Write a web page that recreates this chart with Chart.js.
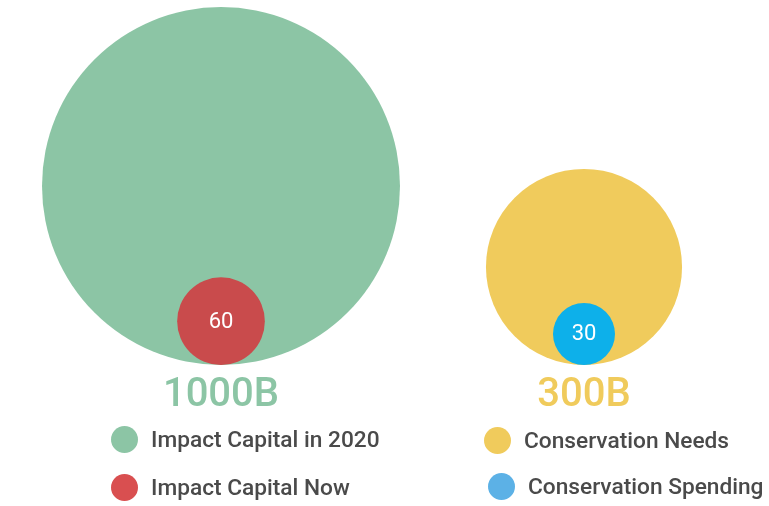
<!DOCTYPE html>
<html>
<head>
<meta charset="utf-8">
<script src="https://cdn.jsdelivr.net/npm/chart.js@4.4.1/dist/chart.umd.min.js"></script>
<style>
  html, body { margin: 0; padding: 0; background: #fff; }
  #wrap { position: relative; width: 769px; height: 506px; }
  #chart { position: absolute; left: 0; top: 0; }
  .leg { position: absolute; display: flex; align-items: center; font-family: Roboto, sans-serif; font-size: 22.7px; font-weight: 500; color: #4a4a4a; white-space: nowrap; }
  .leg span.dot { display: inline-block; width: 27px; height: 27px; border-radius: 50%; margin-right: 13px; }
</style>
</head>
<body>
<div id="wrap">
  <canvas id="chart" width="769" height="506"></canvas>
  <div id="legend"></div>
</div>
<script>
// datos
const grupos = ['1000B', '300B'];
const totales = [1000, 300];
const partes = [60, 30];
const nombresTotales = ['Impact Capital in 2020', 'Conservation Needs'];
const nombresPartes = ['Impact Capital Now', 'Conservation Spending'];

const coloresTotales = ['#8cc5a5', '#f0cb5c'];
const coloresPartes = ['#c94b4c', '#0db0ea'];
const coloresLeyendaPartes = ['#d94f50', '#5cb1e6'];

const ESCALA_R = 179 / Math.sqrt(1000);
const ALTO_AREA = 365;

const radio = v => ESCALA_R * Math.sqrt(v);

const etiquetas = {
  id: 'etiquetas',
  afterDatasetsDraw(chart) {
    const ctx = chart.ctx;
    const area = chart.chartArea;
    ctx.save();
    ctx.textAlign = 'center';
    ctx.textBaseline = 'middle';

    chart.getDatasetMeta(1).data.forEach((el, i) => {
      ctx.fillStyle = coloresTotales[i];
      ctx.font = '500 40px Roboto';
      ctx.fillText(grupos[i], el.x, area.bottom + 31);
    });

    chart.getDatasetMeta(0).data.forEach((el, i) => {
      ctx.fillStyle = '#ffffff';
      ctx.font = '22px Roboto';
      ctx.fillText(String(partes[i]), el.x, el.y + 1);
    });
    ctx.restore();
  }
};

new Chart(document.getElementById('chart'), {
  type: 'bubble',
  data: {
    datasets: [
      {
        label: 'partes',
        data: partes.map((v, i) => ({ x: i, y: radio(v), r: radio(v) })),
        backgroundColor: coloresPartes,
        borderWidth: 0,
        clip: false
      },
      {
        label: 'totales',
        data: totales.map((v, i) => ({ x: i, y: radio(v), r: radio(v) })),
        backgroundColor: coloresTotales,
        borderWidth: 0,
        clip: false
      }
    ]
  },
  options: {
    responsive: false,
    animation: false,
    events: [],
    layout: {
      autoPadding: false,
      padding: { left: 39.5, right: 3.5, top: 0, bottom: 506 - ALTO_AREA }
    },
    plugins: { legend: { display: false }, tooltip: { enabled: false } },
    scales: {
      x: { type: 'linear', display: false, min: -0.5, max: 1.5 },
      y: { type: 'linear', display: false, min: 0, max: ALTO_AREA }
    }
  },
  plugins: [etiquetas]
});

// leyenda
const leyenda = document.getElementById('legend');
const posiciones = [
  { left: 111, top: 426 },
  { left: 484, top: 427 },
  { left: 111, top: 474 },
  { left: 488, top: 473 }
];
const items = [
  { texto: nombresTotales[0], color: coloresTotales[0] },
  { texto: nombresTotales[1], color: coloresTotales[1] },
  { texto: nombresPartes[0], color: coloresLeyendaPartes[0] },
  { texto: nombresPartes[1], color: coloresLeyendaPartes[1] }
];
items.forEach((it, i) => {
  const d = document.createElement('div');
  d.className = 'leg';
  d.style.left = posiciones[i].left + 'px';
  d.style.top = posiciones[i].top + 'px';
  d.innerHTML = `<span class="dot" style="background:${it.color}"></span>${it.texto}`;
  leyenda.appendChild(d);
});
</script>
</body>
</html>
